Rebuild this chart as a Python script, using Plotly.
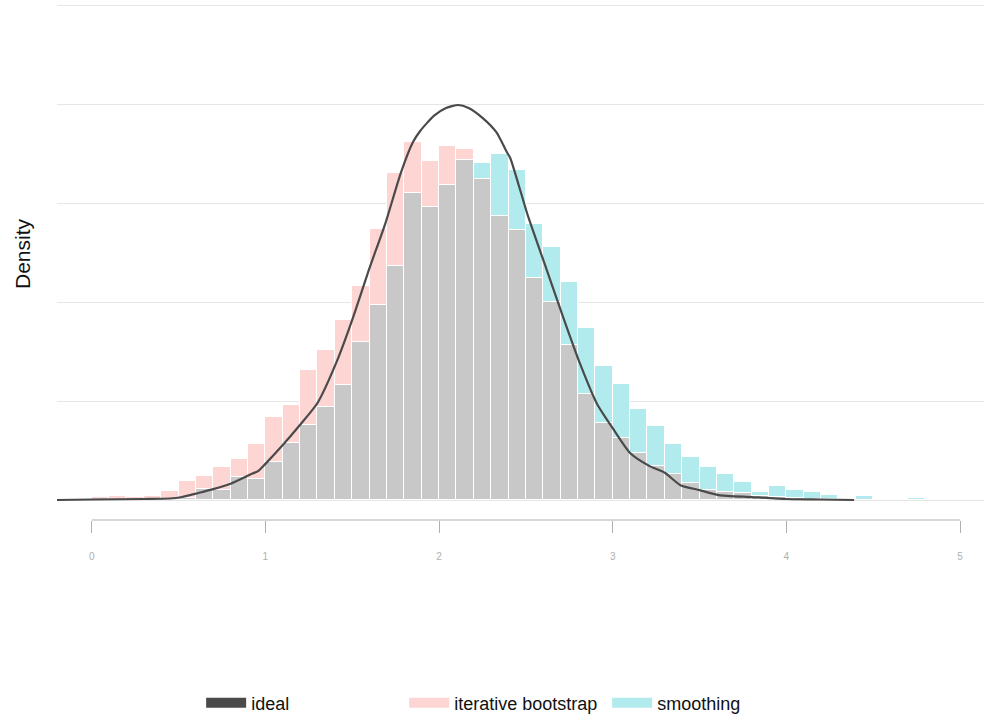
import plotly.graph_objects as go

# ---- data ----
bin_width = 0.1
bin_starts = [round(i * bin_width, 1) for i in range(50)]

bootstrap = [0.007, 0.008, 0.006, 0.008, 0.019, 0.038, 0.048, 0.066, 0.083, 0.113,
             0.167, 0.191, 0.263, 0.303, 0.364, 0.432, 0.547, 0.660, 0.723, 0.685,
             0.716, 0.709, 0.648, 0.573, 0.545, 0.448, 0.401, 0.313, 0.214, 0.156,
             0.125, 0.094, 0.069, 0.053, 0.034, 0.020, 0.016, 0.014, 0.009, 0.007,
             0.004, 0.003, 0.002, 0.001, 0.0, 0.0, 0.0, 0.0, 0.0, 0.0]

smoothing = [0.0, 0.0, 0.0, 0.0, 0.001, 0.004, 0.022, 0.020, 0.047, 0.042,
             0.077, 0.115, 0.152, 0.187, 0.232, 0.319, 0.393, 0.473, 0.621, 0.592,
             0.636, 0.686, 0.680, 0.699, 0.667, 0.557, 0.512, 0.440, 0.347, 0.271,
             0.234, 0.184, 0.149, 0.114, 0.087, 0.067, 0.052, 0.036, 0.016, 0.028,
             0.020, 0.016, 0.011, 0.002, 0.008, 0.0, 0.003, 0.005, 0.003, 0.0015]

ideal_x = [-0.2, 0.0, 0.3, 0.45, 0.52, 0.60, 0.70, 0.80, 0.91, 0.96, 1.00, 1.10, 1.20,
           1.30, 1.41, 1.50, 1.60, 1.69, 1.78, 1.85, 1.89, 1.97, 2.04, 2.11, 2.17, 2.25,
           2.33, 2.39, 2.41, 2.51, 2.62, 2.72, 2.81, 2.91, 3.00, 3.10, 3.21, 3.30, 3.39,
           3.50, 3.61, 3.80, 4.00, 4.20, 4.39]
ideal_y = [0.0, 0.001, 0.002, 0.003, 0.006, 0.013, 0.022, 0.033, 0.051, 0.059, 0.073,
           0.111, 0.152, 0.196, 0.279, 0.364, 0.469, 0.558, 0.661, 0.723, 0.745, 0.776,
           0.792, 0.798, 0.792, 0.772, 0.743, 0.703, 0.691, 0.576, 0.465, 0.364, 0.277,
           0.194, 0.145, 0.095, 0.069, 0.055, 0.030, 0.020, 0.010, 0.006, 0.002, 0.001,
           0.0]

x_ticks = [0, 1, 2, 3, 4, 5]
series_names = ["ideal", "iterative bootstrap", "smoothing"]
y_title = "Density"

# ---- styles ----
PINK = "#FDD6D3"
CYAN = "#B2EBED"
GRAY = "#C8C8C8"
LINE = "#4A4A4A"

centers = [s + bin_width / 2 for s in bin_starts]
overlap = [min(a, b) for a, b in zip(bootstrap, smoothing)]

fig = go.Figure()
bar_line = dict(color="white", width=1)
fig.add_trace(go.Bar(x=centers, y=bootstrap, width=bin_width, marker=dict(color=PINK, line=bar_line),
                     showlegend=False, name=series_names[1]))
fig.add_trace(go.Bar(x=centers, y=smoothing, width=bin_width, marker=dict(color=CYAN, line=bar_line),
                     showlegend=False, name=series_names[2]))
fig.add_trace(go.Bar(x=centers, y=overlap, width=bin_width, marker=dict(color=GRAY, line=bar_line),
                     showlegend=False, name="overlap"))
fig.add_trace(go.Scatter(x=ideal_x, y=ideal_y, mode="lines",
                         line=dict(color=LINE, width=2.2, shape="spline", smoothing=0.6),
                         showlegend=False, name=series_names[0]))

# legend entries (pill-shaped keys)
for nm, col in zip(series_names, [LINE, PINK, CYAN]):
    fig.add_trace(go.Scatter(x=[None], y=[None], mode="lines", name=nm,
                             line=dict(color=col, width=12)))

fig.add_shape(type="line", xref="x", yref="paper", x0=min(x_ticks), x1=max(x_ticks), y0=0, y1=0,
              line=dict(color="#B0B0B0", width=1))

fig.add_annotation(text=y_title, textangle=-90, xref="paper", yref="paper",
                   x=(22 - 57) / 927, y=(520 - 254) / 520, xanchor="center", yanchor="middle",
                   showarrow=False, font=dict(size=21, color="#111"))

fig.update_layout(
    width=984, height=715,
    margin=dict(l=57, r=0, t=0, b=195, autoexpand=False),
    paper_bgcolor="white", plot_bgcolor="white",
    barmode="overlay", bargap=0,
    font=dict(family="Liberation Sans, Arial, sans-serif", color="#111"),
    xaxis=dict(range=[-0.2, 5.138], tickvals=x_ticks, ticktext=[str(t) for t in x_ticks],
               showgrid=False, zeroline=False, showline=False, automargin=False,
               ticks="outside", ticklen=12, tickcolor="#B0B0B0", tickwidth=1,
               tickfont=dict(size=10, color="#B0B0B0"), ticklabelstandoff=15),
    yaxis=dict(range=[-0.0404, 1.0101], dtick=0.2, tick0=0, showticklabels=False,
               showgrid=True, gridcolor="#E6E6E6", gridwidth=1, zeroline=False, showline=False,
               ticks="", automargin=False),
    legend=dict(orientation="h", x=0.1555, xanchor="left", y=-0.352, yanchor="middle",
                font=dict(size=18, color="#111"), itemwidth=40, entrywidth=148,
                bgcolor="rgba(0,0,0,0)"),
)

fig.write_html("out.html", config={"displayModeBar": False},
               post_script="document.body.style.margin='0px';")
